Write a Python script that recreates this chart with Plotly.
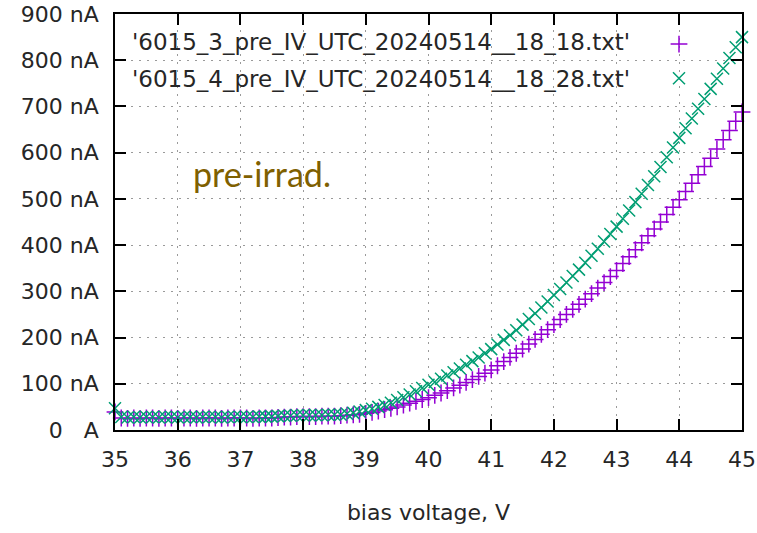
import plotly.graph_objects as go

voltage = [round(35 + 0.1 * i, 1) for i in range(101)]

# '6015_3...18_18.txt' (purple +), current in nA
current_3 = [
    39, 26, 25, 26, 25, 26, 26, 25, 26, 26,
    25, 26, 26, 25, 26, 26, 26, 25, 26, 26,
    26, 26, 25, 26, 26, 26, 27, 28, 28, 29,
    29, 29, 29, 30, 30, 30, 31, 32, 33, 34,
    36, 38, 41, 44, 47, 50, 54, 58, 62, 66,
    70, 75, 80, 85, 91, 97, 103, 109, 116, 123,
    130, 139, 148, 157, 166, 175, 186, 196, 207, 217,
    228, 239, 250, 261, 272, 283, 295, 307, 319, 332,
    345, 360, 375, 390, 405, 420, 435, 450, 466, 482,
    498, 516, 534, 552, 570, 588, 608, 628, 648, 668,
    688,
]

# '6015_4...18_28.txt' (green x), current in nA
current_4 = [
    47, 28, 27, 28, 27, 28, 28, 27, 28, 28,
    27, 28, 28, 27, 28, 28, 28, 27, 28, 28,
    28, 28, 28, 29, 29, 29, 30, 31, 31, 32,
    32, 32, 32, 32, 33, 33, 33, 35, 37, 40,
    43, 46, 50, 54, 59, 65, 71, 77, 84, 91,
    98, 104, 111, 118, 125, 133, 141, 149, 157, 166,
    175, 185, 195, 205, 216, 228, 240, 252, 265, 278,
    292, 305, 319, 333, 347, 362, 377, 392, 408, 424,
    440, 457, 475, 493, 511, 530, 549, 569, 590, 611,
    632, 653, 674, 695, 716, 738, 760, 782, 805, 828,
    850,
]

series_names = [
    "'6015_3_pre_IV_UTC_20240514__18_18.txt'",
    "'6015_4_pre_IV_UTC_20240514__18_28.txt'",
]
series_colors = ["#9400d3", "#009e73"]

x_ticks = [35, 36, 37, 38, 39, 40, 41, 42, 43, 44, 45]
y_ticks = [0, 100, 200, 300, 400, 500, 600, 700, 800, 900]
y_ticktext = ["0\u00a0\u00a0\u00a0A", "100 nA", "200 nA", "300 nA", "400 nA",
              "500 nA", "600 nA", "700 nA", "800 nA", "900 nA"]

FONT = "DejaVu Sans"
TXT = "#262626"

fig = go.Figure()
fig.add_trace(go.Scatter(
    x=voltage, y=current_3, mode="markers", name=" ",
    marker=dict(symbol="cross-thin", size=12, line=dict(color=series_colors[0], width=1.5)),
    cliponaxis=False,
))
fig.add_trace(go.Scatter(
    x=voltage, y=current_4, mode="markers", name=" ",
    marker=dict(symbol="x-thin", size=12, line=dict(color=series_colors[1], width=1.5)),
    cliponaxis=False,
))

L, R, T, B = 115, 15, 14, 103
W, H = 757, 533
pw, ph = W - L - R, H - T - B

def px(xp):
    return (xp - L) / pw

def py(yp):
    return (H - B - yp) / ph

axis_common = dict(
    showline=True, linecolor="black", linewidth=1.5, mirror="ticks",
    ticks="inside", ticklen=11, tickwidth=1.5, tickcolor="black",
    showgrid=True, gridcolor="#9a9a9a", griddash="2px,6px", gridwidth=1,
    zeroline=False, automargin=False,
    tickfont=dict(family=FONT, size=22, color=TXT),
)

fig.update_layout(
    width=W, height=H,
    margin=dict(l=L, r=R, t=T, b=B, autoexpand=False),
    paper_bgcolor="white", plot_bgcolor="white",
    showlegend=True,
    legend=dict(
        x=px(659), y=py(22), xanchor="left", yanchor="top",
        bgcolor="rgba(0,0,0,0)", font=dict(family=FONT, size=24),
        itemwidth=30, tracegroupgap=0,
    ),
    xaxis=dict(range=[35, 45], tickvals=x_ticks, ticktext=[str(v) for v in x_ticks],
               title=dict(text="bias voltage, V", font=dict(family=FONT, size=22, color=TXT),
                          standoff=33),
               ticklabelstandoff=9,
               **axis_common),
    yaxis=dict(range=[0, 900], tickvals=y_ticks, ticktext=y_ticktext,
               ticklabelstandoff=10,
               **axis_common),
    shapes=[dict(type="rect", xref="paper", yref="paper", x0=px(118), x1=px(738),
                 y0=py(24), y1=py(94), fillcolor="white", line=dict(width=0), layer="between")],
    annotations=[
        dict(text=series_names[0], xref="paper", yref="paper", x=px(632), y=py(42),
             xanchor="right", yanchor="middle", showarrow=False,
             font=dict(family=FONT, size=23, color=TXT)),
        dict(text=series_names[1], xref="paper", yref="paper", x=px(632), y=py(79),
             xanchor="right", yanchor="middle", showarrow=False,
             font=dict(family=FONT, size=23, color=TXT)),
        dict(text="pre-irrad.", xref="paper", yref="paper", x=px(191), y=py(173),
             xanchor="left", yanchor="middle", showarrow=False,
             font=dict(family="Lato", size=34, color="#7f6000")),
    ],
)

fig.write_html("out.html")
